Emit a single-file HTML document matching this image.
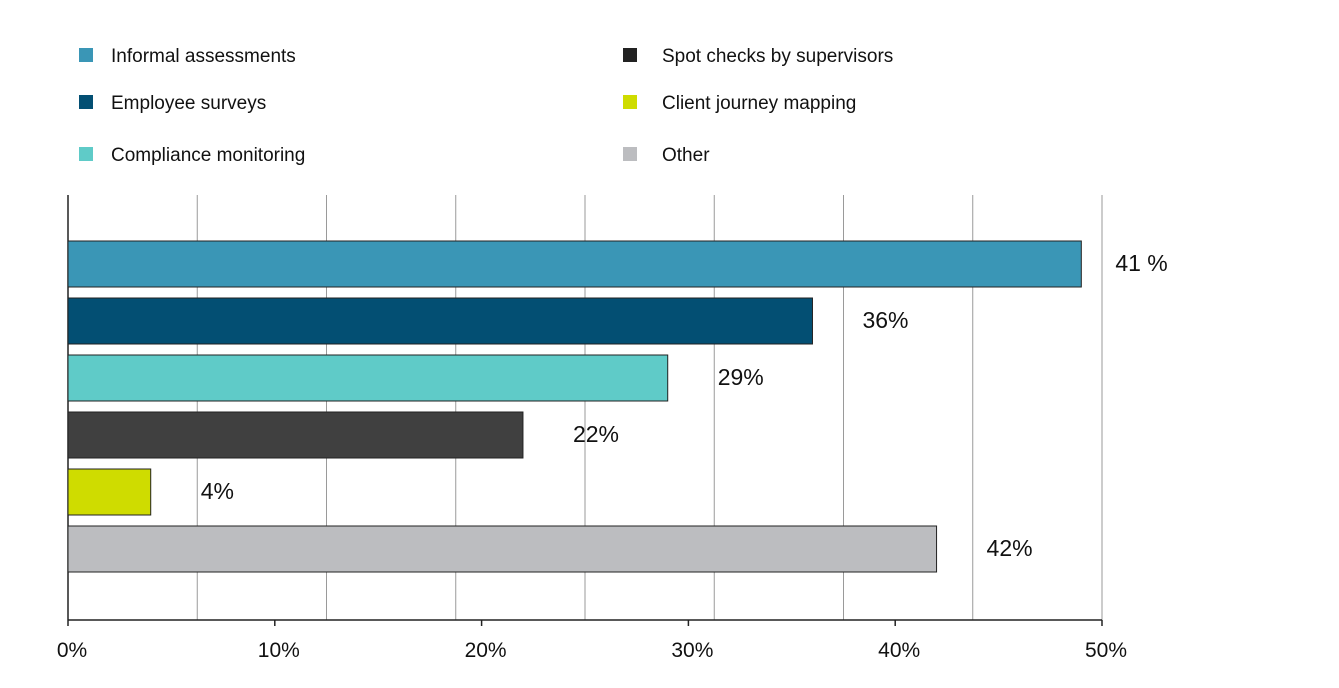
<!DOCTYPE html>
<html><head><meta charset="utf-8"><style>
body{margin:0;background:#fff;font-family:"Liberation Sans",Arial,sans-serif;}
svg{display:block}
</style></head><body>
<svg id="chart" width="1339" height="688" xmlns="http://www.w3.org/2000/svg"></svg>
<script>
const categories=["Informal assessments","Employee surveys","Compliance monitoring","Spot checks by supervisors","Client journey mapping","Other"];
const values=[49,36,29,22,4,42];
const valueLabels=["41 %","36%","29%","22%","4%","42%"];
const tickValues=[0,10,20,30,40,50];
const tickLabels=["0%","10%","20%","30%","40%","50%"];
const colors=["#3a96b6","#034f73","#5fcbc8","#404040","#cfdc00","#bcbdc0"];
const legendColors=["#3a96b6","#034f73","#5fcbc8","#222222","#cfdc00","#bcbdc0"];

const NS="http://www.w3.org/2000/svg";
const svg=document.getElementById('chart');
const x0=68,x1=1102,yTop=195,yBot=620;
const xs=v=>x0+(v/50)*(x1-x0);
const barY=i=>241+i*57;
function el(t,a){const e=document.createElementNS(NS,t);for(const k in a)e.setAttribute(k,a[k]);svg.appendChild(e);return e;}

for(let i=1;i<=8;i++){
  const gx=x0+i*(x1-x0)/8;
  const g=el('line',{x1:gx,x2:gx,y1:yTop,y2:yBot,stroke:'#9a9a9a','stroke-width':1});
  
  
}
const ya=el('line',{x1:x0,x2:x0,y1:yTop,y2:yBot,stroke:'#222','stroke-width':1.5});


const xa=el('line',{x1:x0,x2:x1,y1:yBot,y2:yBot,stroke:'#222','stroke-width':1.5});


tickValues.forEach((v,i)=>{
  const tx=xs(v);
  const t=el('line',{x1:tx,x2:tx,y1:yBot,y2:yBot+6,stroke:'#222','stroke-width':1.5});
  
  
  const l=el('text',{x:tx+4,y:657,'text-anchor':'middle','font-size':21,fill:'#111'});
  l.textContent=tickLabels[i];
  
  
});
values.forEach((v,i)=>{
  const y=barY(i);
  const r=el('rect',{x:x0,y:y,width:xs(v)-x0,height:46,fill:colors[i],stroke:'#222','stroke-width':1});
  
  
  const t=el('text',{x:xs(v)+(i===0?34:50),y:y+30,'font-size':23,fill:'#111'});
  t.textContent=valueLabels[i];
  
  
});
const legPos=[[79,48,111],[79,95,111],[79,147,111],[623,48,662],[623,95,662],[623,147,662]];
categories.forEach((c,i)=>{
  const [sx,sy,tx]=legPos[i];
  const s=el('rect',{x:sx,y:sy,width:14,height:14,fill:legendColors[i]});
  
  
  const t=el('text',{x:tx,y:sy+14,'font-size':19,fill:'#111'});
  t.textContent=c;
  
  
});
</script>
</body></html>
